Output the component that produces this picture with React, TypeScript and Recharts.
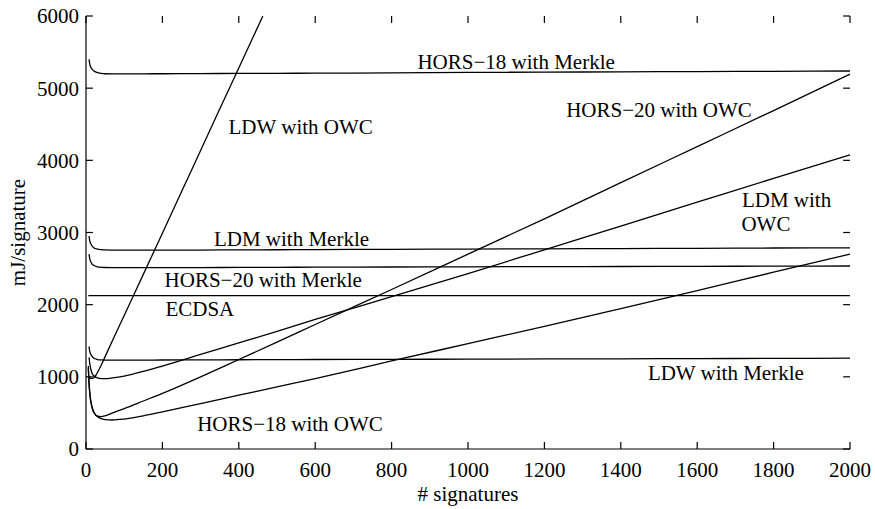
import React from 'react';
import { Line, LineChart, ReferenceDot, ReferenceLine, XAxis, YAxis } from 'recharts';

// shared x grid (number of signatures)
const signatures = [6, 8, 10, 15, 20, 30, 40, 50, 70, 100, 150, 200, 300, 400, 500, 600, 800, 1000, 1200, 1400, 1600, 1800, 2000];

const hors18Merkle = [null, 5400, 5330, 5270, 5240, 5215, 5205, 5200, 5198, 5198, 5199, 5200, 5202, 5204, 5206, 5208, 5212, 5218, 5222, 5226, 5230, 5234, 5238];
const ldmMerkle = [null, 2950, 2880, 2820, 2790, 2770, 2762, 2758, 2756, 2755, 2755, 2756, 2757, 2759, 2761, 2763, 2767, 2771, 2774, 2777, 2781, 2785, 2788];
const hors20Merkle = [null, 2700, 2630, 2570, 2545, 2525, 2518, 2515, 2513, 2512, 2512, 2513, 2514, 2516, 2518, 2519, 2522, 2525, 2527, 2529, 2531, 2534, 2536];
const ecdsa = [2124, 2124, 2124, 2124, 2124, 2124, 2124, 2124, 2124, 2124, 2124, 2124, 2124, 2124, 2124, 2124, 2124, 2124, 2124, 2124, 2124, 2124, 2124];
const ldwMerkle = [null, 1420, 1350, 1290, 1260, 1240, 1234, 1232, 1231, 1231, 1232, 1233, 1235, 1237, 1238, 1240, 1243, 1245, 1248, 1250, 1253, 1255, 1258];
const ldmOwc = [null, 1270, 1180, 1060, 1015, 985, 975, 975, 985, 1010, 1075, 1150, 1310, 1470, 1630, 1795, 2110, 2430, 2760, 3090, 3420, 3750, 4075];
const hors20Owc = [1120, 900, 760, 590, 510, 455, 450, 460, 500, 560, 665, 770, 1000, 1240, 1480, 1725, 2210, 2700, 3190, 3690, 4190, 4690, 5195];
const hors18Owc = [1150, 920, 780, 600, 520, 450, 420, 408, 402, 415, 460, 515, 630, 745, 860, 975, 1220, 1460, 1700, 1945, 2195, 2450, 2700];

// LDW with OWC leaves the plot at the top, so it has its own grid
const ldwOwcSignatures = [5, 10, 15, 20, 25, 30, 40, 50, 70, 100, 150, 200, 250, 300, 350, 400, 463];
const ldwOwc = [1005, 985, 978, 988, 1015, 1060, 1165, 1280, 1510, 1850, 2420, 2990, 3565, 4135, 4710, 5280, 6000];

const xTicks = [0, 200, 400, 600, 800, 1000, 1200, 1400, 1600, 1800, 2000];
const yTicks = [0, 1000, 2000, 3000, 4000, 5000, 6000];

const annotationText = ['HORS\u221218 with Merkle', 'LDW with OWC', 'HORS\u221220 with OWC', 'LDM with', 'OWC', 'LDM with Merkle', 'HORS\u221220 with Merkle', 'ECDSA', 'LDW with Merkle', 'HORS\u221218 with OWC'];
const annotationX = [1126, 562, 1500, 1834, 1780, 538, 464, 298, 1675, 534];
const annotationY = [5367, 4466, 4697, 3450, 3131, 2919, 2351, 1940, 1058, 356];

const rows = signatures.map((n, i) => ({
  n,
  hors18Merkle: hors18Merkle[i],
  ldmMerkle: ldmMerkle[i],
  hors20Merkle: hors20Merkle[i],
  ecdsa: ecdsa[i],
  ldwMerkle: ldwMerkle[i],
  ldmOwc: ldmOwc[i],
  hors20Owc: hors20Owc[i],
  hors18Owc: hors18Owc[i],
}));

const ldwOwcRows = ldwOwcSignatures.map((n, i) => ({ n, ldwOwc: ldwOwc[i] }));

const seriesKeys = ['hors18Merkle', 'ldmMerkle', 'hors20Merkle', 'ecdsa', 'ldwMerkle', 'ldmOwc', 'hors20Owc', 'hors18Owc'];

const FONT = '"Liberation Serif", "Times New Roman", serif';
const X_MAX = 2000;
const Y_MAX = 6000;
// inward tick length (~7px) expressed in axis units
const X_TICK_LEN = 18;
const Y_TICK_LEN = 97;

const BottomTick = ({ x, y, payload }: any) => (
  <text x={x} y={y} dy="0.71em" textAnchor="middle" fontSize={21} fontFamily={FONT} fill="#000">
    {payload.value}
  </text>
);

const LeftTick = ({ x, y, payload }: any) => (
  <text x={x} y={y} dy="0.35em" textAnchor="end" fontSize={21} fontFamily={FONT} fill="#000">
    {payload.value}
  </text>
);

const YTitle = ({ viewBox }: any) => {
  const cx = viewBox.x + 18;
  const cy = viewBox.y + viewBox.height / 2;
  return (
    <text
      x={cx}
      y={cy}
      transform={`rotate(-90, ${cx}, ${cy})`}
      textAnchor="middle"
      dominantBaseline="central"
      fontSize={21}
      fontFamily={FONT}
      fill="#000"
    >
      mJ/signature
    </text>
  );
};

const axisLine = { stroke: '#000', strokeWidth: 1.2 };

export default function App() {
  return (
    <div style={{ position: 'absolute', left: 0, top: 0, background: '#fff', fontFamily: FONT }}>
      <LineChart width={875} height={509} data={rows} margin={{ top: 16, right: 25, bottom: 0, left: 0 }}>
        <XAxis
          dataKey="n"
          type="number"
          domain={[0, X_MAX]}
          ticks={xTicks}
          interval={0}
          height={60}
          tickSize={0}
          tickMargin={13}
          tick={<BottomTick />}
          tickLine={false}
          axisLine={axisLine}
          label={{ value: '# signatures', position: 'insideBottom', offset: 8, fill: '#000', fontSize: 21, fontFamily: FONT }}
        />
        <XAxis
          xAxisId="top"
          orientation="top"
          dataKey="n"
          type="number"
          domain={[0, X_MAX]}
          height={0}
          tick={false}
          tickLine={false}
          axisLine={axisLine}
        />
        <YAxis
          type="number"
          domain={[0, Y_MAX]}
          ticks={yTicks}
          interval={0}
          width={86}
          tickSize={0}
          tickMargin={7}
          tick={<LeftTick />}
          tickLine={false}
          axisLine={axisLine}
          label={<YTitle />}
        />
        <YAxis
          yAxisId="right"
          orientation="right"
          type="number"
          domain={[0, Y_MAX]}
          width={0}
          tick={false}
          tickLine={false}
          axisLine={axisLine}
        />

        {/* inward tick marks on all four sides */}
        {xTicks.map((t) => (
          <ReferenceLine key={`xb${t}`} segment={[{ x: t, y: 0 }, { x: t, y: Y_TICK_LEN }]} stroke="#000" strokeWidth={1.2} />
        ))}
        {xTicks.map((t) => (
          <ReferenceLine key={`xt${t}`} segment={[{ x: t, y: Y_MAX }, { x: t, y: Y_MAX - Y_TICK_LEN }]} stroke="#000" strokeWidth={1.2} />
        ))}
        {yTicks.map((t) => (
          <ReferenceLine key={`yl${t}`} segment={[{ x: 0, y: t }, { x: X_TICK_LEN, y: t }]} stroke="#000" strokeWidth={1.2} />
        ))}
        {yTicks.map((t) => (
          <ReferenceLine key={`yr${t}`} segment={[{ x: X_MAX, y: t }, { x: X_MAX - X_TICK_LEN, y: t }]} stroke="#000" strokeWidth={1.2} />
        ))}

        {seriesKeys.map((key) => (
          <Line
            key={key}
            dataKey={key}
            type="monotone"
            stroke="#000"
            strokeWidth={1.3}
            dot={false}
            activeDot={false}
            isAnimationActive={false}
          />
        ))}
        <Line
          data={ldwOwcRows}
          dataKey="ldwOwc"
          type="monotone"
          stroke="#000"
          strokeWidth={1.3}
          dot={false}
          activeDot={false}
          isAnimationActive={false}
        />

        {annotationText.map((text, i) => (
          <ReferenceDot
            key={text + i}
            x={annotationX[i]}
            y={annotationY[i]}
            r={0}
            fill="none"
            stroke="none"
            label={{ value: text, position: 'center', fill: '#000', fontSize: 21, fontFamily: FONT }}
          />
        ))}
      </LineChart>
    </div>
  );
}
